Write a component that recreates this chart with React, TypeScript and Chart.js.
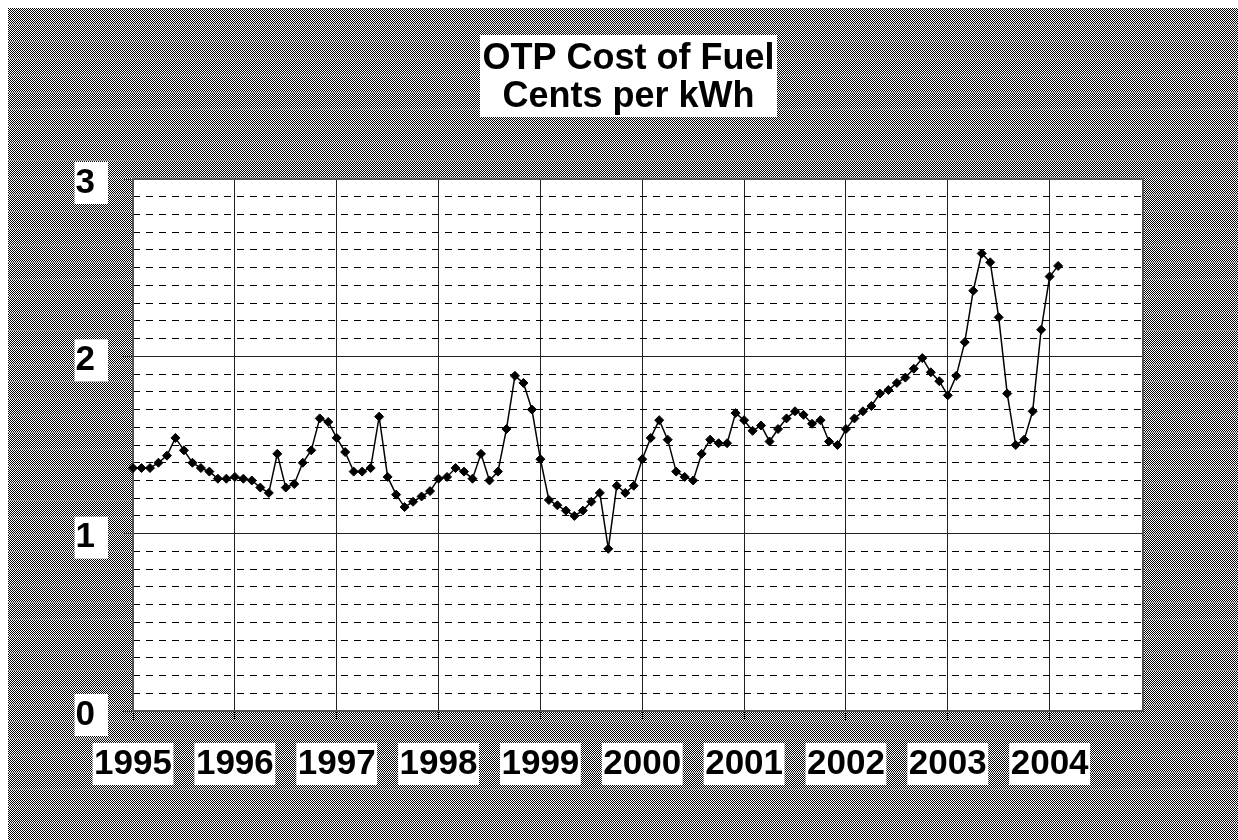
import React, { useEffect, useRef } from 'react';
import { Chart, registerables } from 'chart.js';

Chart.register(...registerables);

// ---- data ----
const titleLines = ['OTP Cost of Fuel', 'Cents per kWh'];
const yearLabels = ['1995', '1996', '1997', '1998', '1999', '2000', '2001', '2002', '2003', '2004'];
const monthNames = ['Jan', 'Feb', 'Mar', 'Apr', 'May', 'Jun', 'Jul', 'Aug', 'Sep', 'Oct', 'Nov', 'Dec'];

const cost1995 = [1.37, 1.37, 1.37, 1.40, 1.44, 1.54, 1.47, 1.40, 1.37, 1.35, 1.31, 1.31];
const cost1996 = [1.32, 1.31, 1.30, 1.26, 1.23, 1.45, 1.26, 1.28, 1.40, 1.47, 1.65, 1.63];
const cost1997 = [1.54, 1.46, 1.35, 1.35, 1.37, 1.66, 1.32, 1.22, 1.15, 1.18, 1.21, 1.24];
const cost1998 = [1.31, 1.32, 1.37, 1.35, 1.31, 1.45, 1.30, 1.35, 1.59, 1.89, 1.85, 1.70];
const cost1999 = [1.42, 1.19, 1.16, 1.13, 1.10, 1.13, 1.18, 1.23, 0.915, 1.27, 1.23, 1.27];
const cost2000 = [1.42, 1.54, 1.64, 1.53, 1.35, 1.32, 1.30, 1.45, 1.53, 1.51, 1.51, 1.68];
const cost2001 = [1.64, 1.58, 1.61, 1.52, 1.59, 1.65, 1.69, 1.67, 1.62, 1.64, 1.52, 1.50];
const cost2002 = [1.59, 1.65, 1.69, 1.72, 1.79, 1.81, 1.85, 1.88, 1.93, 1.99, 1.91, 1.86];
const cost2003 = [1.78, 1.89, 2.08, 2.37, 2.58, 2.53, 2.22, 1.79, 1.50, 1.53, 1.69, 2.15];
const cost2004 = [2.45, 2.51];

const categories = yearLabels.flatMap((y) => monthNames.map((m) => `${m} ${y}`));
const fuelCost = [
  ...cost1995, ...cost1996, ...cost1997, ...cost1998, ...cost1999,
  ...cost2000, ...cost2001, ...cost2002, ...cost2003, ...cost2004,
];

const FONT = '"Liberation Sans", Arial, Helvetica, sans-serif';
const isInt = (v: number) => Math.abs(v - Math.round(v)) < 1e-6;

function makePattern(ctx: CanvasRenderingContext2D) {
  const c = document.createElement('canvas');
  c.width = 2;
  c.height = 17;
  const p = c.getContext('2d')!;
  p.fillStyle = '#ffffff';
  p.fillRect(0, 0, 2, 17);
  p.fillStyle = '#000000';
  for (let r = 0; r < 16; r++) p.fillRect(r % 2, r, 1, 1);
  p.fillStyle = '#9a9a9a';
  p.fillRect(0, 16, 2, 1);
  return ctx.createPattern(c, 'repeat');
}

const decorPlugin = {
  id: 'decor',
  afterLayout(chart: any) {
    const tb = chart.titleBlock;
    if (tb) {
      tb.left += 20.5;
      tb.right += 20.5;
    }
  },
  beforeDraw(chart: any) {
    const { ctx, width, height, chartArea: a } = chart;
    ctx.save();
    const pat = makePattern(ctx);
    ctx.fillStyle = pat || '#808080';
    ctx.fillRect(0, 0, width, height);
    ctx.fillStyle = '#ffffff';
    ctx.fillRect(a.left, a.top, a.right - a.left, a.bottom - a.top);
    const tb = chart.titleBlock;
    if (tb) {
      ctx.font = `bold 36px ${FONT}`;
      const w = Math.max(...titleLines.map((l) => ctx.measureText(l).width));
      const cx = (tb.left + tb.right) / 2;
      const top = tb.top + 32 - 5;
      ctx.fillRect(cx - w / 2 - 2.5, top, w + 5, 2 * 38 + 6);
    }
    ctx.restore();
  },
  beforeDatasetsDraw(chart: any) {
    const { ctx, chartArea: a } = chart;
    ctx.save();
    ctx.strokeStyle = '#555555';
    ctx.lineWidth = 2;
    ctx.strokeRect(a.left, a.top, a.right - a.left, a.bottom - a.top);
    ctx.restore();
  },
};

export default function App() {
  const ref = useRef<HTMLCanvasElement | null>(null);

  useEffect(() => {
    if (!ref.current) return;
    const tickFont = { family: FONT, size: 35, weight: 'bold' as const, lineHeight: 1.2 };
    const chart = new Chart(ref.current, {
      type: 'line',
      data: {
        labels: categories,
        datasets: [
          {
            data: fuelCost,
            borderColor: '#000000',
            borderWidth: 1.5,
            pointStyle: 'rectRot',
            pointRadius: 4.5,
            pointBackgroundColor: '#000000',
            pointBorderColor: '#000000',
            pointBorderWidth: 1,
            tension: 0,
            fill: false,
            clip: false as any,
          },
        ],
      },
      options: {
        animation: false,
        responsive: false,
        events: [],
        layout: { padding: { left: 65, right: 95, top: 0, bottom: 49 } },
        plugins: {
          legend: { display: false },
          tooltip: { enabled: false },
          title: {
            display: true,
            text: titleLines,
            color: '#000000',
            font: { family: FONT, size: 36, weight: 'bold', lineHeight: 38 / 36 },
            padding: { top: 32, bottom: 63 },
          },
        },
        scales: {
          x: {
            type: 'category',
            offset: false,
            afterBuildTicks: (s: any) => {
              s.ticks = s.ticks.filter((t: any) => t.value % 12 === 0);
            },
            afterFit: (s: any) => {
              s.height = 80;
              s.paddingLeft = 0;
              s.paddingRight = 0;
            },
            grid: { color: '#222222', lineWidth: 1, drawTicks: true, tickLength: 9, tickColor: '#222222' },
            border: { display: false },
            ticks: {
              autoSkip: false,
              maxRotation: 0,
              minRotation: 0,
              padding: 23,
              color: '#000000',
              font: tickFont,
              callback: (v: any) => yearLabels[Math.round(Number(v) / 12)],
              showLabelBackdrop: true,
              backdropColor: '#ffffff',
              backdropPadding: { left: 1.5, right: 1.5, top: 0, bottom: 0 },
            },
          },
          y: {
            type: 'linear',
            min: 0,
            max: 3,
            afterFit: (s: any) => {
              s.width = 60;
              s.paddingTop = 0;
              s.paddingBottom = 0;
            },
            grid: {
              color: (c: any) => (c.tick && isInt(c.tick.value) ? '#222222' : '#000000'),
              lineWidth: 1,
              tickLength: 10,
              tickColor: (c: any) => (c.tick && isInt(c.tick.value) ? '#444444' : 'rgba(0,0,0,0)'),
            },
            border: {
              display: false,
              dash: (c: any) => (c.tick && !isInt(c.tick.value) ? [7, 6] : []),
            },
            ticks: {
              stepSize: 0.1,
              autoSkip: false,
              padding: 28,
              labelOffset: 4,
              color: '#000000',
              font: tickFont,
              callback: (v: any) => (isInt(Number(v)) ? String(Math.round(Number(v))) : ''),
              showLabelBackdrop: (c: any) => !!(c.tick && isInt(c.tick.value)),
              backdropColor: '#ffffff',
              backdropPadding: { left: 1, right: 13, top: 0, bottom: 0 },
            },
          },
        },
      } as any,
      plugins: [decorPlugin],
    });
    return () => chart.destroy();
  }, []);

  return (
    <div style={{ position: 'absolute', left: 8, top: 8, width: 1230, height: 832, overflow: 'hidden' }}>
      <canvas ref={ref} width={1230} height={832} style={{ display: 'block' }} />
    </div>
  );
}
